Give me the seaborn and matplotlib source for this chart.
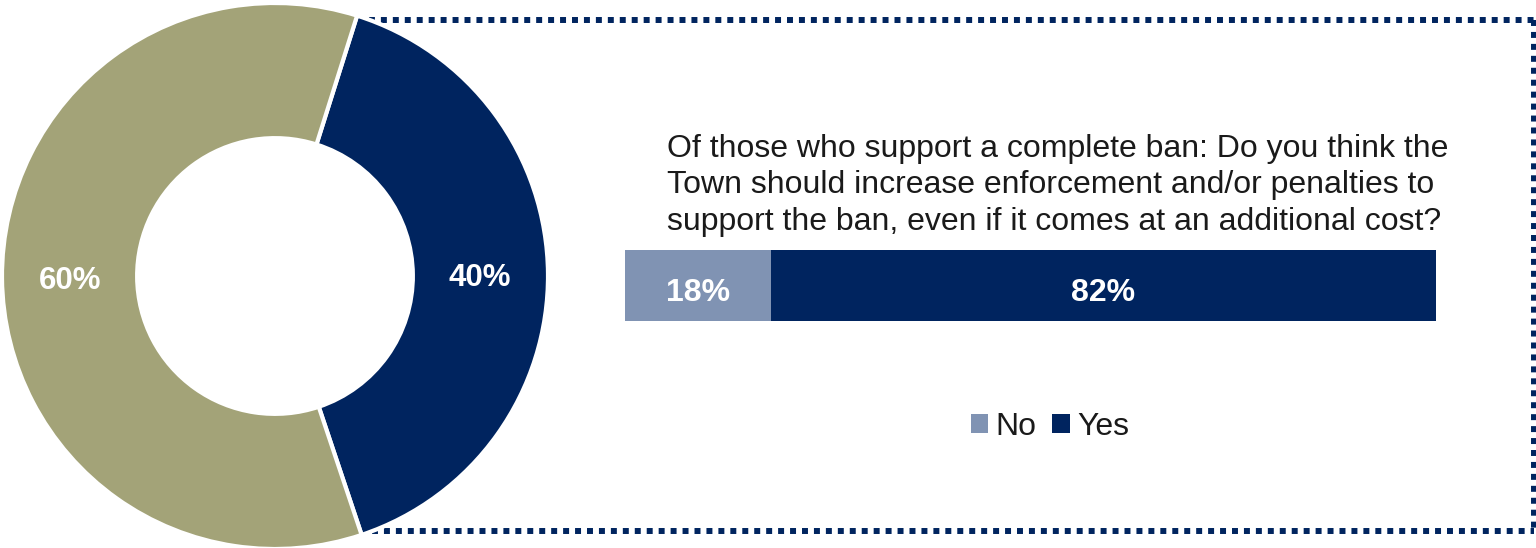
import matplotlib
matplotlib.use("Agg")
import matplotlib.pyplot as plt
import seaborn as sns
import pandas as pd
from matplotlib.patches import Patch

# ---- data -------------------------------------------------------------
donut_segments = ["Segment A", "Segment B"]
donut_values = [40, 60]

bar_categories = ["No", "Yes"]
bar_values = [18, 82]

question = ("Of those who support a complete ban: Do you think the\n"
            "Town should increase enforcement and/or penalties to\n"
            "support the ban, even if it comes at an additional cost?")

# ---- style ------------------------------------------------------------
NAVY = "#00245F"
LIGHT = "#8093B3"
OLIVE = "#A3A378"
TEXT = "#1A1A1A"

sns.set_theme(style="white")
plt.rcParams["font.family"] = ["Liberation Sans", "DejaVu Sans"]

W, H = 1536, 548
fig = plt.figure(figsize=(W / 100, H / 100), dpi=100)
fig.patch.set_facecolor("white")


def px_axes(x0, y0, x1, y1, **kw):
    """Axes placed by a pixel box measured from the top-left corner."""
    return fig.add_axes([x0 / W, 1 - y1 / H, (x1 - x0) / W, (y1 - y0) / H], **kw)


# ---- dotted frame around the bar panel ---------------------------------
bg = px_axes(0, 0, W, H)
bg.set_xlim(0, W)
bg.set_ylim(H, 0)
bg.axis("off")
frame_kw = dict(color=NAVY, linewidth=4.3, linestyle=(0, (1, 1)))
bg.plot([357, 1534], [20, 20], **frame_kw)
bg.plot([1534, 1534], [20, 531], **frame_kw)
bg.plot([372, 1534], [531, 531], **frame_kw)

# ---- donut --------------------------------------------------------------
pax = px_axes(2, 3, 548, 549)
pax.set_aspect("equal")
wedges, _, pct_texts = pax.pie(
    donut_values,
    colors=[NAVY, OLIVE],
    startangle=72.5,
    counterclock=False,
    radius=1,
    autopct=lambda p: f"{p:.0f}%",
    pctdistance=0.75,
    wedgeprops=dict(width=0.495, edgecolor="white", linewidth=3),
    textprops=dict(color="white", fontsize=22.5, fontweight="bold"),
)
for t in pct_texts:
    t.set_va("center_baseline")
pax.set_xlim(-1, 1)
pax.set_ylim(-1, 1)
pax.axis("off")

# ---- stacked horizontal bar -------------------------------------------
bax = px_axes(625, 250, 1436, 321)
total = sum(bar_values)
df_total = pd.DataFrame({"q": ["q"], "value": [total]})
df_no = pd.DataFrame({"q": ["q"], "value": [bar_values[0]]})
sns.barplot(data=df_total, x="value", y="q", orient="h", color=NAVY,
            width=1, linewidth=0, saturation=1, ax=bax)
sns.barplot(data=df_no, x="value", y="q", orient="h", color=LIGHT,
            width=1, linewidth=0, saturation=1, ax=bax)
bax.set_xlim(0, total)
bax.set_ylim(0.5, -0.5)
bax.axis("off")

left = 0
for v in bar_values:
    bax.text(left + v / 2, 0.05, f"{v}%", ha="center", va="center_baseline",
             color="white", fontsize=23, fontweight="bold")
    left += v

# ---- question text ----------------------------------------------------
fig.text(667 / W, 1 - 134 / H, question, ha="left", va="top",
         fontsize=23, color=TEXT, linespacing=1.28)

# ---- legend -------------------------------------------------------------
handles = [Patch(facecolor=LIGHT, edgecolor="none"),
           Patch(facecolor=NAVY, edgecolor="none")]
fig.legend(handles, bar_categories, loc="center",
           bbox_to_anchor=(1050 / W, 1 - 427 / H), ncol=2, frameon=False,
           fontsize=23, handlelength=0.55, handleheight=0.55,
           handletextpad=0.22, columnspacing=0.5, labelcolor=TEXT)

fig.savefig("out.png", dpi=100, facecolor="white")
